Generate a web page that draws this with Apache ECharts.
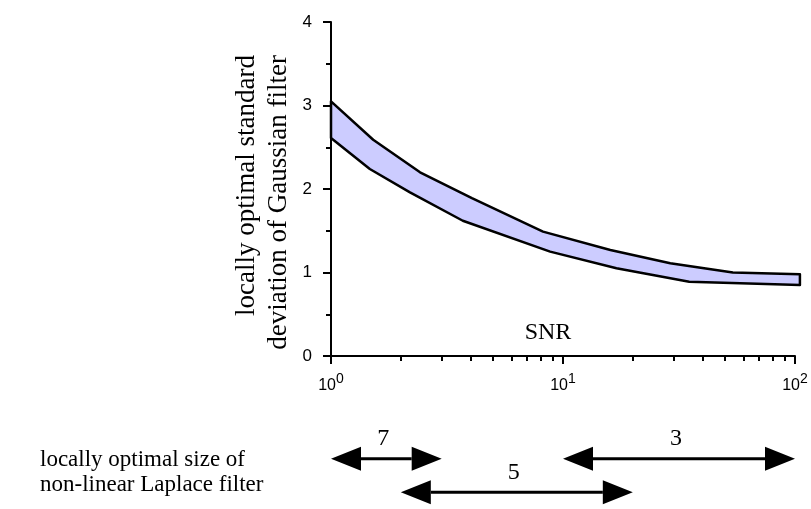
<!DOCTYPE html>
<html>
<head>
<meta charset="utf-8">
<script src="https://cdn.jsdelivr.net/npm/echarts@6/dist/echarts.min.js"></script>
<style>
html, body { margin: 0; padding: 0; background: #fff; }
#chart { width: 811px; height: 509px; }
</style>
</head>
<body>
<div id="chart"></div>
<script>
// upper and lower edge of the band (SNR -> sigma)
var upperSnr = [1, 1.52, 2.42, 4.05, 8.2, 16, 29, 54, 105];
var upperSigma = [3.05, 2.59, 2.20, 1.89, 1.49, 1.27, 1.11, 1.00, 0.98];
var lowerSnr = [1, 1.47, 2.19, 3.7, 8.8, 17, 35, 105];
var lowerSigma = [2.61, 2.24, 1.96, 1.62, 1.25, 1.05, 0.89, 0.85];

// SNR range of each Laplace filter size
var filterSize = ['7', '5', '3'];
var rangeFrom = [1, 2, 10];
var rangeTo = [3, 20, 100];
var rangeLane = [0, 1, 0];
var lanes = ['upper', 'lower'];

// minor ticks of the log axis
var xMinorTicks = [2, 3, 4, 5, 6, 7, 8, 9, 20, 30, 40, 50, 60, 70, 80, 90];

var serif = '"Liberation Serif", "Times New Roman", serif';
var sans = '"Liberation Sans", Arial, sans-serif';

var chartDom = document.getElementById('chart');
var myChart = echarts.init(chartDom);

var option = {
    animation: false,
    grid: [
        { left: 331, right: 16, top: 22, bottom: 153 },
        { left: 331, right: 16, top: 442, height: 74 }
    ],
    xAxis: [
        {
            type: 'log',
            gridIndex: 0,
            logBase: 10,
            min: 1,
            max: 100,
            splitLine: { show: false },
            axisLine: { lineStyle: { color: '#000', width: 2 } },
            axisTick: { length: 8, lineStyle: { color: '#000', width: 2 } },
            axisLabel: {
                margin: 16,
                color: '#000',
                formatter: function (val) {
                    return '{b|10}{s|' + Math.round(Math.log10(val)) + '}';
                },
                rich: {
                    b: { fontSize: 16, fontFamily: sans, color: '#000', padding: [6, 0, 0, 0] },
                    s: { fontSize: 14, fontFamily: sans, color: '#000', verticalAlign: 'top' }
                }
            }
        },
        {
            // minor ticks at 2..9 of each decade
            type: 'value',
            gridIndex: 0,
            min: 0,
            max: 2,
            position: 'bottom',
            splitLine: { show: false },
            axisLine: { show: false },
            axisLabel: { show: false },
            axisTick: {
                length: 5,
                customValues: xMinorTicks.map(function (v) { return Math.log10(v); }),
                lineStyle: { color: '#000', width: 2 }
            }
        },
        {
            type: 'log',
            gridIndex: 1,
            logBase: 10,
            min: 1,
            max: 100,
            show: false
        }
    ],
    yAxis: [
        {
            type: 'value',
            gridIndex: 0,
            min: 0,
            max: 4,
            interval: 1,
            splitLine: { show: false },
            axisLine: { show: true, lineStyle: { color: '#000', width: 2 } },
            axisTick: { show: true, length: 8, lineStyle: { color: '#000', width: 2 } },
            minorTick: { show: true, splitNumber: 2, length: 5, lineStyle: { color: '#000', width: 2 } },
            axisLabel: { margin: 19, color: '#000', fontSize: 17, fontFamily: sans }
        },
        {
            type: 'category',
            gridIndex: 1,
            data: lanes,
            inverse: true,
            show: false
        }
    ],
    series: [
        {
            // band of locally optimal sigma
            type: 'custom',
            xAxisIndex: 0,
            yAxisIndex: 0,
            silent: true,
            clip: false,
            data: [[upperSnr[0], upperSigma[0]]],
            renderItem: function (params, api) {
                var pts = [];
                for (var i = 0; i < upperSnr.length; i++)
                    pts.push(api.coord([upperSnr[i], upperSigma[i]]));
                for (var j = lowerSnr.length - 1; j >= 0; j--)
                    pts.push(api.coord([lowerSnr[j], lowerSigma[j]]));
                return {
                    type: 'polygon',
                    shape: { points: pts },
                    style: { fill: '#ccccff', stroke: '#000', lineWidth: 2.5, lineJoin: 'round' }
                };
            }
        },
        {
            // double arrows for the Laplace filter size
            type: 'custom',
            xAxisIndex: 2,
            yAxisIndex: 1,
            silent: true,
            clip: false,
            encode: { x: [0, 1], y: 2 },
            data: filterSize.map(function (s, i) {
                return [rangeFrom[i], rangeTo[i], rangeLane[i]];
            }),
            renderItem: function (params, api) {
                var a = api.coord([api.value(0), api.value(2)]);
                var b = api.coord([api.value(1), api.value(2)]);
                var h = 30, w = 12;
                return {
                    type: 'group',
                    children: [
                        {
                            type: 'line',
                            shape: { x1: a[0] + h, y1: a[1], x2: b[0] - h, y2: b[1] },
                            style: { stroke: '#000', lineWidth: 3 }
                        },
                        {
                            type: 'polygon',
                            shape: { points: [[a[0], a[1]], [a[0] + h, a[1] - w], [a[0] + h, a[1] + w]] },
                            style: { fill: '#000' }
                        },
                        {
                            type: 'polygon',
                            shape: { points: [[b[0], b[1]], [b[0] - h, b[1] - w], [b[0] - h, b[1] + w]] },
                            style: { fill: '#000' }
                        },
                        {
                            type: 'text',
                            x: (a[0] + b[0]) / 2 - 3,
                            y: a[1] - 8,
                            style: {
                                text: filterSize[params.dataIndex],
                                fontSize: 24,
                                fontFamily: serif,
                                fill: '#000',
                                align: 'center',
                                verticalAlign: 'bottom'
                            }
                        }
                    ]
                };
            }
        }
    ],
    graphic: [
        {
            type: 'text',
            x: 263,
            y: 55,
            rotation: Math.PI / 2,
            style: {
                text: 'locally optimal standard\ndeviation of Gaussian filter',
                fontSize: 27,
                fontFamily: serif,
                lineHeight: 32,
                fill: '#000',
                align: 'right',
                verticalAlign: 'middle'
            }
        },
        {
            type: 'text',
            x: 548,
            y: 333,
            style: {
                text: 'SNR',
                fontSize: 24,
                fontFamily: serif,
                fill: '#000',
                align: 'center',
                verticalAlign: 'middle'
            }
        },
        {
            type: 'text',
            x: 40,
            y: 472,
            style: {
                text: 'locally optimal size of\nnon-linear Laplace filter',
                fontSize: 23,
                fontFamily: serif,
                lineHeight: 25,
                fill: '#000',
                align: 'left',
                verticalAlign: 'middle'
            }
        }
    ]
};

myChart.setOption(option);
</script>
</body>
</html>
